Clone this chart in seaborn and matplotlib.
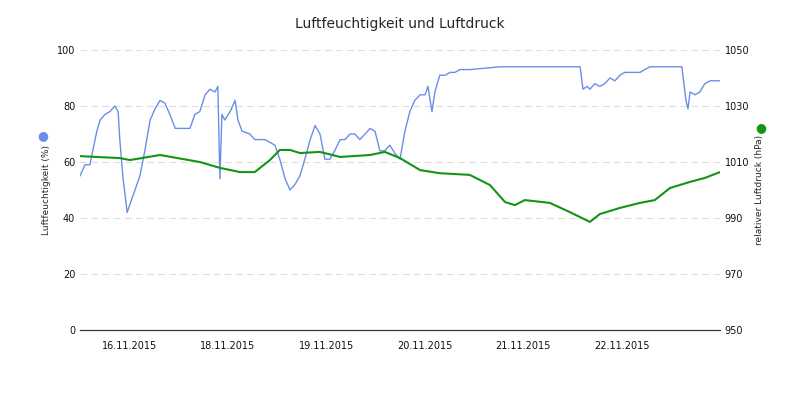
import matplotlib
matplotlib.use("Agg")
import matplotlib.pyplot as plt
import seaborn as sns

sns.set_style("white")
plt.rcParams["font.family"] = ["DejaVu Sans"]
plt.rcParams["font.size"] = 7

# hours since start of record
hum_hours = [0, 1.2, 2.4, 4.1, 4.9, 6.1, 7.3, 8.5, 9.3, 9.7, 10.5, 11.5, 12.2, 13.4,
             14.6, 15.8, 17.1, 18.3, 19.5, 20.7, 21.9, 23.2, 24.4, 25.6, 26.8, 28.0,
             29.2, 30.5, 31.7, 32.9, 33.6, 34.1, 34.6, 35.3, 36.6, 37.8, 38.5, 39.5,
             41.4, 42.6, 43.9, 45.1, 46.3, 47.5, 48.7, 50.0, 51.2, 52.4, 53.6, 54.8,
             56.1, 57.3, 58.5, 59.7, 60.9, 62.1, 63.4, 64.6, 65.8, 67.0, 68.2, 69.5,
             70.7, 71.9, 73.1, 74.3, 75.5, 76.8, 78.0, 79.2, 80.4, 81.6, 82.9, 84.1,
             84.8, 85.8, 86.5, 87.7, 89.0, 90.2, 91.4, 92.6, 95.0, 102.4, 109.7, 121.9,
             122.6, 123.6, 124.3, 125.5, 126.7, 127.9, 129.2, 130.4, 131.6, 132.8,
             136.5, 138.9, 146.7, 147.7, 148.2, 148.7, 149.9, 151.1, 152.3, 153.6,
             154.8, 156.0]
humidity = [55, 59, 59, 71, 75, 77, 78, 80, 78, 68, 54, 42, 45, 50,
            55, 64, 75, 79, 82, 81, 77, 72, 72, 72, 72, 77,
            78, 84, 86, 85, 87, 54, 77, 75, 78, 82, 75, 71,
            70, 68, 68, 68, 67, 66, 61, 54, 50, 52, 55, 61,
            68, 73, 70, 61, 61, 64, 68, 68, 70, 70, 68, 70,
            72, 71, 64, 64, 66, 63, 61, 71, 78, 82, 84, 84,
            87, 78, 85, 91, 91, 92, 92, 93, 93, 94, 94, 94,
            86, 87, 86, 88, 87, 88, 90, 89, 91, 92,
            92, 94, 94, 82, 79, 85, 84, 85, 88, 89,
            89, 89]

pres_hours = [0, 9.7, 12.2, 19.5, 29.2, 34.1, 39.0, 42.6, 46.3, 48.7, 51.2, 53.6,
              58.5, 63.4, 70.7, 74.3, 78.0, 82.9, 87.7, 95.0, 99.9, 103.6, 106.0,
              108.4, 114.5, 119.4, 124.3, 126.7, 131.6, 136.5, 140.1, 143.8, 148.7,
              152.3, 156.0]
pressure = [1012.1, 1011.4, 1010.7, 1012.5, 1010.0, 1007.9, 1006.4, 1006.4, 1010.7,
            1014.3, 1014.3, 1013.2, 1013.6, 1011.8, 1012.5, 1013.6, 1011.4, 1007.1,
            1006.0, 1005.4, 1001.8, 995.7, 994.6, 996.4, 995.4, 992.1, 988.6, 991.4,
            993.6, 995.4, 996.4, 1000.7, 1002.9, 1004.3, 1006.4]

day_labels = ["16.11.2015", "18.11.2015", "19.11.2015", "20.11.2015",
              "21.11.2015", "22.11.2015"]

fig, ax = plt.subplots(figsize=(8, 4), dpi=100)
fig.subplots_adjust(left=0.1, right=0.9, top=0.875, bottom=0.175)
ax2 = ax.twinx()

sns.lineplot(x=hum_hours, y=humidity, ax=ax, color="#6a8ee8", lw=1)
sns.lineplot(x=pres_hours, y=pressure, ax=ax2, color="#149414", lw=1.5)

ax.set_xlim(0, 156)
ax.set_ylim(0, 100)
ax2.set_ylim(950, 1050)
ax.set_yticks(range(0, 101, 20))
ax2.set_yticks(range(950, 1051, 20))
ax.grid(axis="y", color="#dddddd", ls=(0, (6, 4)), lw=0.8)

ax.set_xticks([24 * i for i in range(1, 7)])
ax.set_xticklabels([])
ax.set_xticks([12 + 24 * i for i in range(6)], minor=True)
ax.set_xticklabels(day_labels, minor=True)
ax.tick_params(axis="x", which="major", length=5, color="#333333")
ax.tick_params(axis="x", which="minor", length=0, pad=8, labelcolor="#111111")
ax.tick_params(axis="y", length=0, labelcolor="#111111")
ax2.tick_params(axis="y", length=0, labelcolor="#111111")

for a in (ax, ax2):
    for s in ("top", "left", "right"):
        a.spines[s].set_visible(False)
    a.spines["bottom"].set_color("#333333")

ax.set_ylabel("Luftfeuchtigkeit (%)", fontsize=6.5)
ax2.set_ylabel("relativer Luftdruck (hPa)", fontsize=6.5)
ax.set_title("Luftfeuchtigkeit und Luftdruck", fontsize=10, pad=16)

fig.text(0.054, 0.66, "\u25cf", color="#6a8ee8", fontsize=9, ha="center", va="center")
fig.text(0.951, 0.68, "\u25cf", color="#149414", fontsize=9, ha="center", va="center")

plt.savefig("out.png")
